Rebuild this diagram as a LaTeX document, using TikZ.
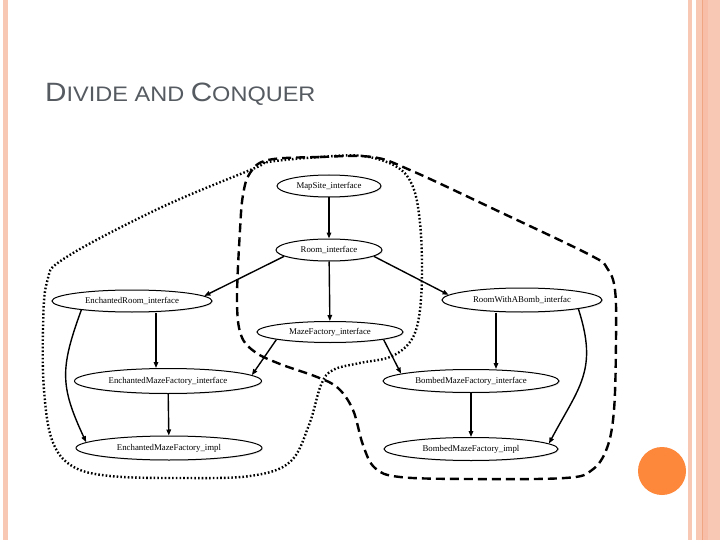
\documentclass[tikz,border=0pt]{standalone}
\usepackage{fontspec}
\setmainfont{Liberation Serif}
\newfontfamily\titlefont[FakeStretch=1.12]{Liberation Sans}
\usetikzlibrary{arrows.meta,shapes.geometric,shadows}
\definecolor{stripe}{HTML}{F8C8B4}
\definecolor{bandline}{HTML}{F0A583}
\definecolor{banddark}{HTML}{F8BEA8}
\definecolor{dotorange}{HTML}{FD873A}
\definecolor{titlegray}{HTML}{555B61}
\begin{document}
\begin{tikzpicture}[x=1pt,y=1pt,
  cls/.style={ellipse,draw,line width=1pt,fill=white,inner sep=0pt,
    font=\fontsize{8.8}{9}\selectfont,
    drop shadow={shadow xshift=1pt,shadow yshift=-1pt,opacity=0.2}},
  dep/.style={-{Triangle[length=6pt,width=4.5pt]},line width=1.4pt},
  grpdot/.style={line width=2.4pt,dash pattern=on 1.6pt off 2.1pt},
  grpdash/.style={line width=2.4pt,dash pattern=on 9pt off 5pt}]
\useasboundingbox (0,0) rectangle (720,-540);
\fill[white] (0,0) rectangle (720,-540);
% slide decorations
\fill[stripe] (2.5,0) rectangle (7.5,-540);
\fill[stripe] (688,0) rectangle (692,-540);
\fill[stripe] (696,0) rectangle (720,-540);
\fill[banddark] (703,0) rectangle (708,-540);
\fill[bandline] (701.5,0) rectangle (703,-540);
\fill[dotorange] (662,-471) circle (24);
% title
\node[anchor=base west,text=titlegray,inner sep=0pt] (title) at (45,-101.5)
  {\titlefont\fontsize{26.5}{28}\selectfont D\fontsize{21}{24}\selectfont IVIDE AND \fontsize{26.5}{28}\selectfont C\fontsize{21}{24}\selectfont ONQUER};
% group outlines
\draw[grpdot] plot[smooth cycle,tension=0.6] coordinates {
  (268,-162) (320,-157) (363,-156) (397,-167) (413,-187) (420,-223)
  (422,-273) (419,-317) (410,-342) (390,-357) (360,-363) (333,-370)
  (321,-385) (309,-425) (290,-462) (250,-476) (180,-478) (110,-476)
  (72,-466) (52,-440) (44,-390) (43,-330) (47,-282) (65,-258)
  (160,-208) (255,-168)};
\draw[grpdash] plot[smooth cycle,tension=0.6] coordinates {
  (268,-160) (320,-157) (372,-157) (410,-170) (500,-212) (590,-255)
  (607,-268) (615,-290) (616,-340) (614,-410) (607,-448) (592,-470)
  (565,-478) (470,-479) (400,-477) (375,-468) (363,-445) (353,-410)
  (338,-388) (317,-377) (280,-364) (255,-352) (241,-335) (237,-300)
  (240,-230) (243,-195) (250,-173)};
% nodes
\node[cls,minimum width=104pt,minimum height=22pt] (ms) at (329,-186) {MapSite\_interface};
\node[cls,minimum width=106pt,minimum height=22pt] (room) at (329,-250) {Room\_interface};
\node[cls,minimum width=160pt,minimum height=22pt] (er) at (132,-301) {EnchantedRoom\_interface};
\node[cls,minimum width=160pt,minimum height=24pt] (rb) at (522,-300) {RoomWithABomb\_interfac};
\node[cls,minimum width=146pt,minimum height=21pt] (mf) at (330,-332) {MazeFactory\_interface};
\node[cls,minimum width=187pt,minimum height=25pt] (emf) at (168,-381) {EnchantedMazeFactory\_interface};
\node[cls,minimum width=186pt,minimum height=24pt] (emi) at (169,-448) {EnchantedMazeFactory\_impl};
\node[cls,minimum width=176pt,minimum height=23pt] (bmf) at (471,-381) {BombedMazeFactory\_interface};
\node[cls,minimum width=174pt,minimum height=23pt] (bmi) at (471,-449) {BombedMazeFactory\_impl};
% dependencies
\draw[dep] (ms) -- (room);
\draw[dep] (room.188) -- (er.4);
\draw[dep] (room.-8) -- (rb.176);
\draw[dep] (room) -- (mf);
\draw[dep] ([xshift=24pt]er.south) -- ([xshift=24pt]er.south |- emf.north);
\draw[dep] (er.190) to[out=-110,in=115,looseness=1.2] (emi.176);
\draw[dep] (mf.188) -- (emf.4);
\draw[dep] (mf.-8) -- (bmf.174);
\draw[dep] ([xshift=-26pt]rb.south) -- ([xshift=-26pt]rb.south |- bmf.north);
\draw[dep] (rb.-9) to[out=-72,in=62,looseness=1.2] (bmi.4);
\draw[dep] (emf) -- (emi);
\draw[dep] (bmf) -- (bmi);
\end{tikzpicture}
\end{document}
